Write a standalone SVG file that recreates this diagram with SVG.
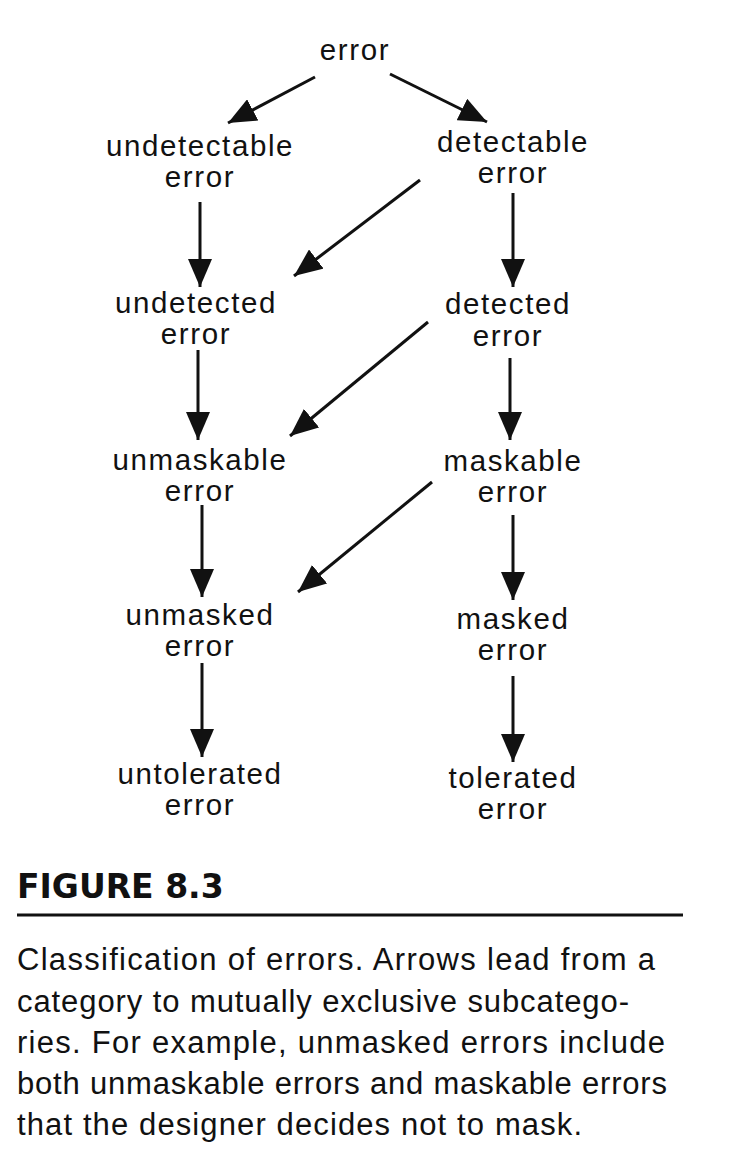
<svg xmlns="http://www.w3.org/2000/svg" width="734" height="1174" viewBox="0 0 734 1174">
<style>
.n{font-family:"Liberation Sans",Arial,sans-serif;font-size:29.5px;letter-spacing:1.6px;text-anchor:middle;fill:#111}
.c{font-family:"Liberation Sans",Arial,sans-serif;font-size:31px;fill:#111}
.f{font-family:"DejaVu Sans",sans-serif;font-weight:bold;font-size:33px;fill:#111}
#edges line{stroke:#111;stroke-width:3;marker-end:url(#ah)}
</style>
<defs>
<marker id="ah" markerUnits="userSpaceOnUse" markerWidth="30" markerHeight="24" refX="28" refY="12" orient="auto">
<path d="M0,0 L28,12 L0,24 Z" fill="#111"/>
</marker>
</defs>
<rect width="734" height="1174" fill="#fff"/>
<g id="edges">
<line x1="315" y1="77" x2="228" y2="123"/>
<line x1="390" y1="74" x2="487" y2="122"/>
<line x1="200" y1="202" x2="200" y2="287"/>
<line x1="513" y1="193" x2="513" y2="287"/>
<line x1="420" y1="180" x2="294" y2="276"/>
<line x1="198" y1="350" x2="198" y2="440"/>
<line x1="510" y1="358" x2="510" y2="440"/>
<line x1="428" y1="322" x2="290" y2="436"/>
<line x1="202" y1="505" x2="202" y2="597"/>
<line x1="513" y1="515" x2="513" y2="600"/>
<line x1="432" y1="482" x2="298" y2="592"/>
<line x1="202" y1="663" x2="202" y2="757"/>
<line x1="513" y1="676" x2="513" y2="762"/>
</g>
<g id="error"><text class="n" x="355" y="60">error</text></g>
<g id="undetectable"><text class="n" x="200" y="156">undetectable</text><text class="n" x="200" y="187">error</text></g>
<g id="detectable"><text class="n" x="513" y="152">detectable</text><text class="n" x="513" y="183">error</text></g>
<g id="undetected"><text class="n" x="196" y="313">undetected</text><text class="n" x="196" y="344">error</text></g>
<g id="detected"><text class="n" x="508" y="314">detected</text><text class="n" x="508" y="346">error</text></g>
<g id="unmaskable"><text class="n" x="200" y="470">unmaskable</text><text class="n" x="200" y="501">error</text></g>
<g id="maskable"><text class="n" x="513" y="471">maskable</text><text class="n" x="513" y="502">error</text></g>
<g id="unmasked"><text class="n" x="200" y="625">unmasked</text><text class="n" x="200" y="656">error</text></g>
<g id="masked"><text class="n" x="513" y="629">masked</text><text class="n" x="513" y="660">error</text></g>
<g id="untolerated"><text class="n" x="200" y="784">untolerated</text><text class="n" x="200" y="815">error</text></g>
<g id="tolerated"><text class="n" x="513" y="788">tolerated</text><text class="n" x="513" y="819">error</text></g>
<text class="f" x="17" y="898">FIGURE 8.3</text>
<line x1="17" y1="915" x2="683" y2="915" stroke="#111" stroke-width="3"/>
<text class="c" x="17" y="970" textLength="638">Classification of errors. Arrows lead from a</text>
<text class="c" x="17" y="1012" textLength="612">category to mutually exclusive subcatego-</text>
<text class="c" x="17" y="1053" textLength="648">ries. For example, unmasked errors include</text>
<text class="c" x="17" y="1094" textLength="650">both unmaskable errors and maskable errors</text>
<text class="c" x="17" y="1135" textLength="565">that the designer decides not to mask.</text>
</svg>
